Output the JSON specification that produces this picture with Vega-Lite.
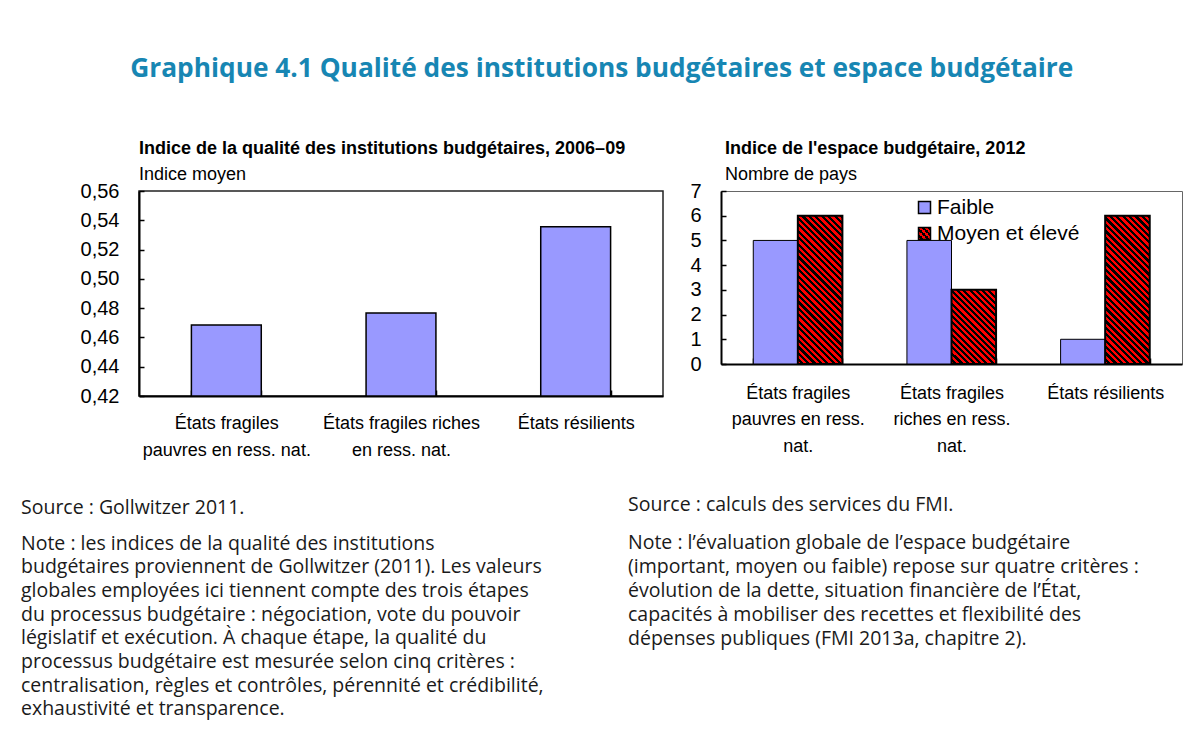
{
  "$schema": "https://vega.github.io/schema/vega-lite/v6.json",
  "autosize": {"type": "none"},
  "padding": {"left": 139, "top": 191, "right": 1051, "bottom": 546},
  "background": "white",
  "title": {
    "text": "Graphique 4.1 Qualité des institutions budgétaires et espace budgétaire",
    "font": "Open Sans", "fontSize": 26.3, "fontWeight": "bold", "color": "#1786b3",
    "anchor": "middle", "offset": 57
  },
  "config": {
    "font": "Liberation Sans",
    "view": {"stroke": "#222222", "strokeWidth": 1.5},
    "axis": {"labelFont": "Liberation Sans", "labelColor": "black", "domainColor": "black", "domainWidth": 2, "tickColor": "black", "tickWidth": 1.5, "grid": false}
  },
  "datasets": {
    "left": [
      {"cat": "États fragiles pauvres en ress. nat.", "v": 0.4685},
      {"cat": "États fragiles riches en ress. nat.", "v": 0.4767},
      {"cat": "États résilients", "v": 0.5356}
    ],
    "right": [
      {"cat": "États fragiles pauvres en ress. nat.", "serie": "Faible", "n": 5},
      {"cat": "États fragiles pauvres en ress. nat.", "serie": "Moyen et élevé", "n": 6},
      {"cat": "États fragiles riches en ress. nat.", "serie": "Faible", "n": 5},
      {"cat": "États fragiles riches en ress. nat.", "serie": "Moyen et élevé", "n": 3},
      {"cat": "États résilients", "serie": "Faible", "n": 1},
      {"cat": "États résilients", "serie": "Moyen et élevé", "n": 6}
    ]
  },
  "columns": 2,
  "bounds": "flush",
  "spacing": {"column": 58, "row": 79},
  "concat": [
    {
      "width": 524, "height": 205,
      "data": {"name": "left"},
      "title": {"text": "Indice de la qualité des institutions budgétaires, 2006–09", "subtitle": "Indice moyen", "anchor": "start", "frame": "group", "font": "Liberation Sans", "fontSize": 18, "fontWeight": "bold", "color": "black", "subtitleFont": "Liberation Sans", "subtitleFontSize": 18, "subtitleColor": "black", "subtitlePadding": 8, "offset": -3},
      "mark": {"type": "bar", "fill": "#9999ff", "stroke": "black", "strokeWidth": 1.5},
      "encoding": {
        "x": {"field": "cat", "type": "nominal", "sort": null, "scale": {"paddingInner": 0.6, "paddingOuter": 0.3},
          "axis": {"title": null, "labelAngle": 0, "tickBand": "extent", "tickSize": -6, "labelPadding": 24, "labelFontSize": 18, "labelLineHeight": 27, "labelBaseline": "top", "labelLimit": 0, "labelOverlap": false,
            "labelExpr": "datum.label === 'États fragiles pauvres en ress. nat.' ? ['États fragiles', 'pauvres en ress. nat.'] : datum.label === 'États fragiles riches en ress. nat.' ? ['États fragiles riches', 'en ress. nat.'] : datum.label"}},
        "y": {"field": "v", "type": "quantitative", "scale": {"domain": [0.42, 0.56], "zero": false, "nice": false},
          "axis": {"title": null, "values": [0.42, 0.44, 0.46, 0.48, 0.5, 0.52, 0.54, 0.56], "tickSize": -5, "labelPadding": 25, "labelFontSize": 20,
            "labelExpr": "replace(format(datum.value, '.2f'), '.', ',')"}},
        "y2": {"datum": 0.42}
      }
    },
    {
      "width": 461, "height": 173,
      "data": {"name": "right"},
      "view": {"stroke": "#666666", "strokeWidth": 1},
      "title": {"text": "Indice de l'espace budgétaire, 2012", "subtitle": "Nombre de pays", "anchor": "start", "frame": "group", "dx": 4, "font": "Liberation Sans", "fontSize": 18, "fontWeight": "bold", "color": "black", "subtitleFont": "Liberation Sans", "subtitleFontSize": 18, "subtitleColor": "black", "subtitlePadding": 8, "offset": -3},
      "mark": {"type": "bar", "stroke": "black"},
      "encoding": {
        "x": {"field": "cat", "type": "nominal", "sort": null, "scale": {"paddingInner": 0.42, "paddingOuter": 0.21},
          "axis": {"title": null, "labelAngle": 0, "tickBand": "extent", "tickSize": -6, "labelPadding": 26, "labelFontSize": 18, "labelLineHeight": 26.5, "labelBaseline": "top", "labelLimit": 0, "labelOverlap": false,
            "labelExpr": "datum.label === 'États fragiles pauvres en ress. nat.' ? ['États fragiles', 'pauvres en ress.', 'nat.'] : datum.label === 'États fragiles riches en ress. nat.' ? ['États fragiles', 'riches en ress.', 'nat.'] : datum.label"}},
        "xOffset": {"field": "serie", "type": "nominal", "scale": {"domain": ["Faible", "Moyen et élevé"], "paddingInner": 0, "paddingOuter": 0}},
        "y": {"field": "n", "type": "quantitative", "scale": {"domain": [0, 7], "nice": false},
          "axis": {"title": null, "values": [0, 1, 2, 3, 4, 5, 6, 7], "tickSize": -5, "labelPadding": 25, "labelFontSize": 20}},
        "strokeWidth": {"condition": {"test": "datum.serie === 'Moyen et élevé'", "value": 2}, "value": 1},
        "fill": {
          "condition": [
            {"test": "datum.serie === 'Moyen et élevé' && datum.n === 6", "value": {"gradient": "linear", "x1": 0, "y1": 1, "x2": 0.3585, "y2": -0.1928, "stops": [
{"offset":0,"color":"red"},{"offset":0.0167,"color":"red"},
{"offset":0.0167,"color":"black"},{"offset":0.0333,"color":"black"},
{"offset":0.0333,"color":"red"},{"offset":0.05,"color":"red"},
{"offset":0.05,"color":"black"},{"offset":0.0667,"color":"black"},
{"offset":0.0667,"color":"red"},{"offset":0.0833,"color":"red"},
{"offset":0.0833,"color":"black"},{"offset":0.1,"color":"black"},
{"offset":0.1,"color":"red"},{"offset":0.1167,"color":"red"},
{"offset":0.1167,"color":"black"},{"offset":0.1333,"color":"black"},
{"offset":0.1333,"color":"red"},{"offset":0.15,"color":"red"},
{"offset":0.15,"color":"black"},{"offset":0.1667,"color":"black"},
{"offset":0.1667,"color":"red"},{"offset":0.1833,"color":"red"},
{"offset":0.1833,"color":"black"},{"offset":0.2,"color":"black"},
{"offset":0.2,"color":"red"},{"offset":0.2167,"color":"red"},
{"offset":0.2167,"color":"black"},{"offset":0.2333,"color":"black"},
{"offset":0.2333,"color":"red"},{"offset":0.25,"color":"red"},
{"offset":0.25,"color":"black"},{"offset":0.2667,"color":"black"},
{"offset":0.2667,"color":"red"},{"offset":0.2833,"color":"red"},
{"offset":0.2833,"color":"black"},{"offset":0.3,"color":"black"},
{"offset":0.3,"color":"red"},{"offset":0.3167,"color":"red"},
{"offset":0.3167,"color":"black"},{"offset":0.3333,"color":"black"},
{"offset":0.3333,"color":"red"},{"offset":0.35,"color":"red"},
{"offset":0.35,"color":"black"},{"offset":0.3667,"color":"black"},
{"offset":0.3667,"color":"red"},{"offset":0.3833,"color":"red"},
{"offset":0.3833,"color":"black"},{"offset":0.4,"color":"black"},
{"offset":0.4,"color":"red"},{"offset":0.4167,"color":"red"},
{"offset":0.4167,"color":"black"},{"offset":0.4333,"color":"black"},
{"offset":0.4333,"color":"red"},{"offset":0.45,"color":"red"},
{"offset":0.45,"color":"black"},{"offset":0.4667,"color":"black"},
{"offset":0.4667,"color":"red"},{"offset":0.4833,"color":"red"},
{"offset":0.4833,"color":"black"},{"offset":0.5,"color":"black"},
{"offset":0.5,"color":"red"},{"offset":0.5167,"color":"red"},
{"offset":0.5167,"color":"black"},{"offset":0.5333,"color":"black"},
{"offset":0.5333,"color":"red"},{"offset":0.55,"color":"red"},
{"offset":0.55,"color":"black"},{"offset":0.5667,"color":"black"},
{"offset":0.5667,"color":"red"},{"offset":0.5833,"color":"red"},
{"offset":0.5833,"color":"black"},{"offset":0.6,"color":"black"},
{"offset":0.6,"color":"red"},{"offset":0.6167,"color":"red"},
{"offset":0.6167,"color":"black"},{"offset":0.6333,"color":"black"},
{"offset":0.6333,"color":"red"},{"offset":0.65,"color":"red"},
{"offset":0.65,"color":"black"},{"offset":0.6667,"color":"black"},
{"offset":0.6667,"color":"red"},{"offset":0.6833,"color":"red"},
{"offset":0.6833,"color":"black"},{"offset":0.7,"color":"black"},
{"offset":0.7,"color":"red"},{"offset":0.7167,"color":"red"},
{"offset":0.7167,"color":"black"},{"offset":0.7333,"color":"black"},
{"offset":0.7333,"color":"red"},{"offset":0.75,"color":"red"},
{"offset":0.75,"color":"black"},{"offset":0.7667,"color":"black"},
{"offset":0.7667,"color":"red"},{"offset":0.7833,"color":"red"},
{"offset":0.7833,"color":"black"},{"offset":0.8,"color":"black"},
{"offset":0.8,"color":"red"},{"offset":0.8167,"color":"red"},
{"offset":0.8167,"color":"black"},{"offset":0.8333,"color":"black"},
{"offset":0.8333,"color":"red"},{"offset":0.85,"color":"red"},
{"offset":0.85,"color":"black"},{"offset":0.8667,"color":"black"},
{"offset":0.8667,"color":"red"},{"offset":0.8833,"color":"red"},
{"offset":0.8833,"color":"black"},{"offset":0.9,"color":"black"},
{"offset":0.9,"color":"red"},{"offset":0.9167,"color":"red"},
{"offset":0.9167,"color":"black"},{"offset":0.9333,"color":"black"},
{"offset":0.9333,"color":"red"},{"offset":0.95,"color":"red"},
{"offset":0.95,"color":"black"},{"offset":0.9667,"color":"black"},
{"offset":0.9667,"color":"red"},{"offset":0.9833,"color":"red"},
{"offset":0.9833,"color":"black"},{"offset":1,"color":"black"}]}},
            {"test": "datum.serie === 'Moyen et élevé' && datum.n === 3", "value": {"gradient": "linear", "x1": 0, "y1": 1, "x2": 0.7069, "y2": -0.1762, "stops": [
{"offset":0,"color":"red"},{"offset":0.0263,"color":"red"},
{"offset":0.0263,"color":"black"},{"offset":0.0526,"color":"black"},
{"offset":0.0526,"color":"red"},{"offset":0.0789,"color":"red"},
{"offset":0.0789,"color":"black"},{"offset":0.1053,"color":"black"},
{"offset":0.1053,"color":"red"},{"offset":0.1316,"color":"red"},
{"offset":0.1316,"color":"black"},{"offset":0.1579,"color":"black"},
{"offset":0.1579,"color":"red"},{"offset":0.1842,"color":"red"},
{"offset":0.1842,"color":"black"},{"offset":0.2105,"color":"black"},
{"offset":0.2105,"color":"red"},{"offset":0.2368,"color":"red"},
{"offset":0.2368,"color":"black"},{"offset":0.2632,"color":"black"},
{"offset":0.2632,"color":"red"},{"offset":0.2895,"color":"red"},
{"offset":0.2895,"color":"black"},{"offset":0.3158,"color":"black"},
{"offset":0.3158,"color":"red"},{"offset":0.3421,"color":"red"},
{"offset":0.3421,"color":"black"},{"offset":0.3684,"color":"black"},
{"offset":0.3684,"color":"red"},{"offset":0.3947,"color":"red"},
{"offset":0.3947,"color":"black"},{"offset":0.4211,"color":"black"},
{"offset":0.4211,"color":"red"},{"offset":0.4474,"color":"red"},
{"offset":0.4474,"color":"black"},{"offset":0.4737,"color":"black"},
{"offset":0.4737,"color":"red"},{"offset":0.5,"color":"red"},
{"offset":0.5,"color":"black"},{"offset":0.5263,"color":"black"},
{"offset":0.5263,"color":"red"},{"offset":0.5526,"color":"red"},
{"offset":0.5526,"color":"black"},{"offset":0.5789,"color":"black"},
{"offset":0.5789,"color":"red"},{"offset":0.6053,"color":"red"},
{"offset":0.6053,"color":"black"},{"offset":0.6316,"color":"black"},
{"offset":0.6316,"color":"red"},{"offset":0.6579,"color":"red"},
{"offset":0.6579,"color":"black"},{"offset":0.6842,"color":"black"},
{"offset":0.6842,"color":"red"},{"offset":0.7105,"color":"red"},
{"offset":0.7105,"color":"black"},{"offset":0.7368,"color":"black"},
{"offset":0.7368,"color":"red"},{"offset":0.7632,"color":"red"},
{"offset":0.7632,"color":"black"},{"offset":0.7895,"color":"black"},
{"offset":0.7895,"color":"red"},{"offset":0.8158,"color":"red"},
{"offset":0.8158,"color":"black"},{"offset":0.8421,"color":"black"},
{"offset":0.8421,"color":"red"},{"offset":0.8684,"color":"red"},
{"offset":0.8684,"color":"black"},{"offset":0.8947,"color":"black"},
{"offset":0.8947,"color":"red"},{"offset":0.9211,"color":"red"},
{"offset":0.9211,"color":"black"},{"offset":0.9474,"color":"black"},
{"offset":0.9474,"color":"red"},{"offset":0.9737,"color":"red"},
{"offset":0.9737,"color":"black"},{"offset":1,"color":"black"}]}}
          ],
          "field": "serie", "type": "nominal",
          "scale": {"domain": ["Faible", "Moyen et élevé"], "range": ["#9999ff", {"expr": "{gradient: 'linear', x1: 0, y1: 1, x2: 1, y2: 0, stops: [{offset: 0, color: 'red'}, {offset: 0.125, color: 'red'}, {offset: 0.125, color: 'black'}, {offset: 0.25, color: 'black'}, {offset: 0.25, color: 'red'}, {offset: 0.375, color: 'red'}, {offset: 0.375, color: 'black'}, {offset: 0.5, color: 'black'}, {offset: 0.5, color: 'red'}, {offset: 0.625, color: 'red'}, {offset: 0.625, color: 'black'}, {offset: 0.75, color: 'black'}, {offset: 0.75, color: 'red'}, {offset: 0.875, color: 'red'}, {offset: 0.875, color: 'black'}, {offset: 1, color: 'black'}]}"}]},
          "legend": {"title": null, "orient": "none", "legendX": 775, "legendY": 6, "symbolType": "square", "symbolSize": 144, "symbolStrokeColor": "black", "symbolStrokeWidth": 1.5, "labelFont": "Liberation Sans", "labelFontSize": 21, "labelColor": "black", "labelOffset": 2, "rowPadding": 4, "padding": 0}
        }
      }
    },
    {
      "width": 524, "height": 0,
      "data": {"values": []},
      "view": {"stroke": null},
      "title": {"text": "Source : Gollwitzer 2011.", "subtitle": ["Note : les indices de la qualité des institutions", "budgétaires proviennent de Gollwitzer (2011). Les valeurs", "globales employées ici tiennent compte des trois étapes", "du processus budgétaire : négociation, vote du pouvoir", "législatif et exécution. À chaque étape, la qualité du", "processus budgétaire est mesurée selon cinq critères :", "centralisation, règles et contrôles, pérennité et crédibilité,", "exhaustivité et transparence."],
        "orient": "bottom", "anchor": "start", "frame": "group", "dx": -118, "offset": 4, "font": "Open Sans", "fontSize": 19.5, "fontWeight": "normal", "color": "#1a1a1a", "lineHeight": 24, "subtitleFont": "Open Sans", "subtitleFontSize": 19.5, "subtitleColor": "#1a1a1a", "subtitleLineHeight": 23.7, "subtitlePadding": 16},
      "mark": "text"
    },
    {
      "width": 461, "height": 0,
      "data": {"values": []},
      "view": {"stroke": null},
      "title": {"text": "Source : calculs des services du FMI.", "subtitle": ["Note : l’évaluation globale de l’espace budgétaire", "(important, moyen ou faible) repose sur quatre critères :", "évolution de la dette, situation financière de l’État,", "capacités à mobiliser des recettes et flexibilité des", "dépenses publiques (FMI 2013a, chapitre 2)."],
        "orient": "bottom", "anchor": "start", "frame": "group", "dx": -93, "offset": 1, "font": "Open Sans", "fontSize": 19.5, "fontWeight": "normal", "color": "#1a1a1a", "lineHeight": 24, "subtitleFont": "Open Sans", "subtitleFontSize": 19.5, "subtitleColor": "#1a1a1a", "subtitleLineHeight": 24, "subtitlePadding": 18},
      "mark": "text"
    }
  ]
}
